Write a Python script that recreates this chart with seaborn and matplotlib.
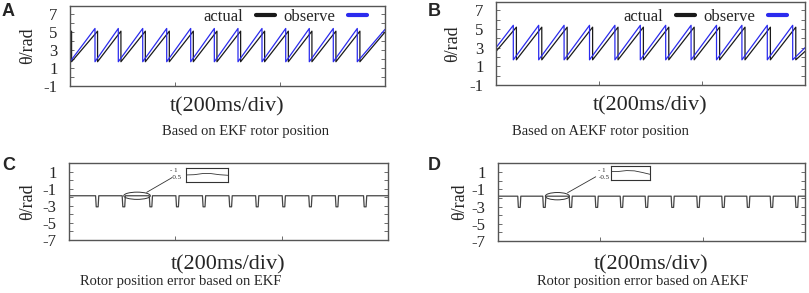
"""
Rotor position (EKF vs AEKF) and the position error, four panels A-D.
"""

import matplotlib
matplotlib.use('Agg')
import matplotlib.pyplot as plt
from matplotlib.lines import Line2D
from matplotlib.patches import Ellipse
import seaborn as sns
import numpy as np
import pandas as pd

# ---- data (time in ms, angle in rad) ----
T_END = 600

# panel A (EKF): times where each sawtooth wraps
a_obs_drops = [47.6, 92, 138.5, 184.2, 229.9, 274.9, 320, 365.7, 410.9, 455.8, 501.5, 547.2]
a_act_drops = [3, 52.5, 97, 143.5, 189.2, 234.9, 279.9, 325, 370.7, 415.9, 460.8, 506.5, 552.2]
a_obs_levels = [1.7, 5.4]   # low, high
a_act_levels = [1.7, 5.1]
a_obs_ends = [1.7, 5.3]     # value at t=0, value at t=600
a_act_ends = [5.0, 5.0]

# panel B (AEKF)
b_obs_drops = [33.6, 82.9, 132.2, 181.6, 230.9, 280.2, 329.5, 378.8, 428.2, 477.5, 526.8, 576.1]
b_act_drops = [39.6, 88.9, 138.2, 187.6, 236.9, 286.2, 335.5, 384.8, 434.2, 483.5, 532.8, 582.1]
b_obs_levels = [1.7, 5.4]
b_act_levels = [1.7, 5.2]
b_obs_ends = [3.0, 3.0]
b_act_ends = [2.6, 2.6]

# panels C / D: error trace, flat level with short dips
c_dips = [53, 103, 154, 204, 254, 304, 354, 404, 454, 504, 557]
d_dips = [41.6, 90.5, 142.1, 192.9, 241.8, 290.6, 341.4, 391.5, 440.3, 489.2, 535, 584]
err_level = -1.8
err_dip = -3.1

# zoom insets (relative units inside the little box)
c_inset_x = [0, 20, 40, 60, 80, 100]
c_inset_y = [0.48, 0.50, 0.58, 0.58, 0.50, 0.46]
d_inset_x = [0, 20, 40, 60, 80, 100]
d_inset_y = [0.62, 0.62, 0.68, 0.66, 0.55, 0.42]


def saw_frame(drops, levels, ends):
    lo, hi = levels
    t = [0]
    v = [ends[0]]
    for d in drops:
        t += [d, d]
        v += [hi, lo]
    t.append(T_END)
    v.append(ends[1])
    return pd.DataFrame({'t': t, 'v': v})


def err_frame(dips):
    t = [0]
    v = [err_level]
    for d in dips:
        t += [d - 3, d - 1.8, d + 1.8, d + 3]
        v += [err_level, err_dip, err_dip, err_level]
    t.append(T_END)
    v.append(err_level)
    return pd.DataFrame({'t': t, 'v': v})


sns.set_theme(style='white')
plt.rcParams['font.family'] = ['Liberation Serif', 'DejaVu Serif']

W, H = 809, 293
fig = plt.figure(figsize=(W / 100, H / 100), dpi=100)


def px_axes(x0, y0, x1, y1):
    ax = fig.add_axes([x0 / W, 1 - y1 / H, (x1 - x0) / W, (y1 - y0) / H])
    ax.px = (x1 - x0, y1 - y0)
    return ax


BLUE = '#2b2bee'
BLACK = '#1a1a1a'
FRAME = '#555555'


def style(ax, ylim, yticks, xlab_gap, ylab_x):
    ax.set_xlim(0, T_END)
    ax.set_ylim(*ylim)
    ax.set_xticks([200, 400])
    ax.set_xticklabels([])
    ax.set_yticks(yticks)
    ax.set_yticklabels([str(y) for y in yticks], fontsize=12)
    ax.set_yticks(np.arange(int(ylim[0]), int(ylim[1]) + 1), minor=True)
    ax.tick_params(axis='both', which='both', direction='in', length=3, width=0.6,
                   color=FRAME, left=True, right=True, bottom=True, top=False)
    ax.tick_params(axis='y', pad=9)
    for s in ax.spines.values():
        s.set_color(FRAME)
        s.set_linewidth(1.0)
    ax.set_xlabel('t(200ms/div)', fontsize=16, va='center')
    ax.xaxis.set_label_coords(0.5, -(xlab_gap + 2) / ax.px[1])
    ax.set_ylabel('θ/rad', fontsize=13, va='center')
    ax.yaxis.set_label_coords(-ylab_x / ax.px[0], 0.5)


def legend(ax, y):
    handles = [Line2D([], [], color=BLACK, lw=3), Line2D([], [], color=BLUE, lw=3)]
    ax.legend(handles, ['actual', 'observe'], ncol=2, markerfirst=False, frameon=False,
              loc='upper right', bbox_to_anchor=(1 - 15 / ax.px[0], y), fontsize=12,
              handlelength=1.1, handletextpad=0.8, columnspacing=0.5, borderaxespad=0,
              borderpad=0.2)


# ---- A ----
axA = px_axes(70, 6, 385, 86)
sns.lineplot(data=saw_frame(a_act_drops, a_act_levels, a_act_ends), x='t', y='v',
             sort=False, estimator=None, color=BLACK, lw=0.9, ax=axA)
sns.lineplot(data=saw_frame(a_obs_drops, a_obs_levels, a_obs_ends), x='t', y='v',
             sort=False, estimator=None, color=BLUE, lw=0.9, ax=axA)
style(axA, (-1, 7.9), [-1, 1, 3, 5, 7], 19, 42)
legend(axA, 1.0)

# ---- B ----
axB = px_axes(496, 2, 805, 85)
sns.lineplot(data=saw_frame(b_act_drops, b_act_levels, b_act_ends), x='t', y='v',
             sort=False, estimator=None, color=BLACK, lw=0.9, ax=axB)
sns.lineplot(data=saw_frame(b_obs_drops, b_obs_levels, b_obs_ends), x='t', y='v',
             sort=False, estimator=None, color=BLUE, lw=0.9, ax=axB)
style(axB, (-1, 7.9), [-1, 1, 3, 5, 7], 19, 43)
legend(axB, 0.96)

# ---- C / D ----
axC = px_axes(69, 163, 388, 240)
sns.lineplot(data=err_frame(c_dips), x='t', y='v', sort=False, estimator=None,
             color='#444444', lw=0.9, ax=axC)
style(axC, (-7, 2.05), [-7, -5, -3, -1, 1], 23, 41)

axD = px_axes(498, 163, 805, 241)
sns.lineplot(data=err_frame(d_dips), x='t', y='v', sort=False, estimator=None,
             color='#444444', lw=0.9, ax=axD)
style(axD, (-7, 2.05), [-7, -5, -3, -1, 1], 22, 38)

# zoom markers: ellipse, connector, inset box
for ax, cx, w, line, box, ins_x, ins_y, labx in [
        (axC, 128, 50, ((146, -1.4), (193, 0.3)), (185.7, 167.7, 227.7, 181.7),
         c_inset_x, c_inset_y, 178),
        (axD, 116, 47, ((136, -1.4), (191, 0.45)), (611, 166, 650, 180.3),
         d_inset_x, d_inset_y, 606)]:
    ax.add_patch(Ellipse((cx, err_level), w, 0.85, fill=False, ec='#333333', lw=0.7))
    ax.plot([line[0][0], line[1][0]], [line[0][1], line[1][1]], color='#333333', lw=0.6)
    axi = px_axes(*box)
    sns.lineplot(x=ins_x, y=ins_y, color='#333333', lw=0.6, ax=axi)
    axi.set_xlim(0, 100)
    axi.set_ylim(0, 1)
    axi.set_xticks([])
    axi.set_yticks([])
    axi.set_xlabel('')
    axi.set_ylabel('')
    for s in axi.spines.values():
        s.set_color('#333333')
        s.set_linewidth(0.8)
    fig.text(labx / W, 1 - 170 / H, '- 1', fontsize=5, ha='right', va='center')
    fig.text((labx + 4) / W, 1 - 177.7 / H, '-0.5', fontsize=5, ha='right', va='center')

# captions and panel letters
fig.text(245 / W, 1 - 131 / H, 'Based on EKF rotor position', fontsize=10.5, ha='center', va='center')
fig.text(600 / W, 1 - 131 / H, 'Based on AEKF rotor position', fontsize=10.5, ha='center', va='center')
fig.text(181 / W, 1 - 281 / H, 'Rotor position error based on EKF', fontsize=10.5, ha='center', va='center')
fig.text(643 / W, 1 - 281 / H, 'Rotor position error based on AEKF', fontsize=10.5, ha='center', va='center')

for lab, x, y in [('A', 2, 12), ('B', 428, 12), ('C', 2, 165), ('D', 428, 166)]:
    fig.text(x / W, 1 - y / H, lab, fontsize=13, fontweight='bold', family='Liberation Sans',
             ha='left', va='center')

fig.savefig('out.png', dpi=100)
